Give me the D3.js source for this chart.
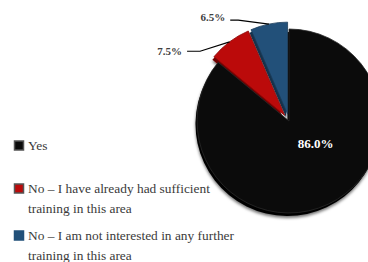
<!DOCTYPE html>
<html>
<head>
<meta charset="utf-8">
<script src="https://cdn.jsdelivr.net/npm/d3@7"></script>
<style>
  body { margin: 0; background: #fff; }
  svg { display: block; }
</style>
</head>
<body>
<div id="chart"></div>
<script>
// chart data
var categories = [
  'Yes',
  'No \u2013 I have already had sufficient training in this area',
  'No \u2013 I am not interested in any further training in this area'
];
var values = [86.0, 7.5, 6.5];
var colours = ['#0b0b0b', '#bb0a0a', '#225079'];
var sideColours = ['#000000', '#6e0606', '#12304b'];

var W = 368, H = 262;
var cx = 289, cy = 121, radius = 92;
var explode = [0, 7, 7];
var FONT = '"Liberation Serif", "Times New Roman", Times, serif';

var svg = d3.select('#chart').append('svg')
  .attr('width', W)
  .attr('height', H)
  .style('font-family', FONT);

var defs = svg.append('defs');
var f = defs.append('filter').attr('id', 'shadow')
  .attr('x', '-20%').attr('y', '-20%').attr('width', '140%').attr('height', '140%');
f.append('feDropShadow')
  .attr('dx', 0).attr('dy', 2)
  .attr('stdDeviation', 1.5)
  .attr('flood-color', '#000')
  .attr('flood-opacity', 0.55);

var pie = d3.pie().sort(null).startAngle(0).endAngle(2 * Math.PI)
  .value(function(d) { return d; });
var arcs = pie(values);

var arc = d3.arc().innerRadius(0).outerRadius(radius);

function offset(d, i) {
  var a = (d.startAngle + d.endAngle) / 2;
  return [Math.sin(a) * explode[i], -Math.cos(a) * explode[i]];
}

var g = svg.append('g').attr('transform', 'translate(' + cx + ',' + cy + ')');

// darker "side" of each slice, shifted down a little
g.selectAll('path.side')
  .data(arcs)
  .enter()
  .append('path')
  .attr('class', 'side')
  .attr('d', arc)
  .attr('fill', function(d, i) { return sideColours[i]; })
  .attr('filter', 'url(#shadow)')
  .attr('transform', function(d, i) {
    var o = offset(d, i);
    return 'translate(' + (o[0] - 1.5) + ',' + (o[1] + 3) + ')';
  });

g.selectAll('path.slice')
  .data(arcs)
  .enter()
  .append('path')
  .attr('class', 'slice')
  .attr('d', arc)
  .attr('fill', function(d, i) { return colours[i]; })
  .attr('stroke', function(d, i) { return i === 0 ? '#2a2a2a' : d3.color(colours[i]).darker(0.8); })
  .attr('stroke-width', 0.8)
  .attr('transform', function(d, i) {
    var o = offset(d, i);
    return 'translate(' + o[0] + ',' + o[1] + ')';
  });

// inside label for the big slice (excel puts it a bit up/right of the centroid)
var big = arcs[0];
var c = d3.arc().innerRadius(0).outerRadius(radius * 0.95).centroid(big);
g.append('text')
  .attr('x', c[0] + 8)
  .attr('y', c[1] - 13)
  .attr('text-anchor', 'middle')
  .attr('fill', '#fff')
  .attr('font-weight', 'bold')
  .attr('font-size', '13px')
  .text(values[0].toFixed(1) + '%');

// outside labels with leader lines
arcs.slice(1).forEach(function(d, k) {
  var i = k + 1;
  var a = (d.startAngle + d.endAngle) / 2;
  var r0 = radius + explode[i];
  var p0 = [Math.sin(a) * r0, -Math.cos(a) * r0];
  var a1 = a - 15 * Math.PI / 180;
  var p1 = [Math.sin(a1) * 113, -Math.cos(a1) * 113];
  var p2 = [p1[0] - (i === 1 ? 13 : 8), p1[1]];
  g.append('polyline')
    .attr('points', [p0, p1, p2].map(function(p) { return p.join(','); }).join(' '))
    .attr('fill', 'none')
    .attr('stroke', '#000')
    .attr('stroke-width', 1.2);
  g.append('text')
    .attr('x', p2[0] - 5)
    .attr('y', p2[1] + (i === 1 ? 4 : 1))
    .attr('text-anchor', 'end')
    .attr('fill', '#404040')
    .attr('font-weight', 'bold')
    .attr('font-size', '11px')
    .text(values[i].toFixed(1) + '%');
});

// legend
var legendY = [146, 189, 236];
var lineH = 19.5;
var legend = svg.append('g');

categories.forEach(function(name, i) {
  var item = legend.append('g').attr('transform', 'translate(14,' + legendY[i] + ')');
  item.append('rect')
    .attr('x', 0.5).attr('y', -5)
    .attr('width', 9).attr('height', 9)
    .attr('fill', colours[i])
    .attr('stroke', i === 2 ? colours[i] : '#555')
    .attr('stroke-width', 1.5);
  var t = item.append('text')
    .attr('x', 14)
    .attr('y', 4)
    .attr('fill', '#3a3a3a')
    .attr('font-size', '13.4px');
  // wrap long names
  var words = name.split(' '), line = [];
  var tspan = t.append('tspan').attr('x', 14).attr('dy', 0);
  words.forEach(function(w) {
    line.push(w);
    tspan.text(line.join(' '));
    if (tspan.node().getComputedTextLength() > 210 && line.length > 1) {
      line.pop();
      tspan.text(line.join(' '));
      line = [w];
      tspan = t.append('tspan').attr('x', 14).attr('dy', lineH).text(w);
    }
  });
});
</script>
</body>
</html>
